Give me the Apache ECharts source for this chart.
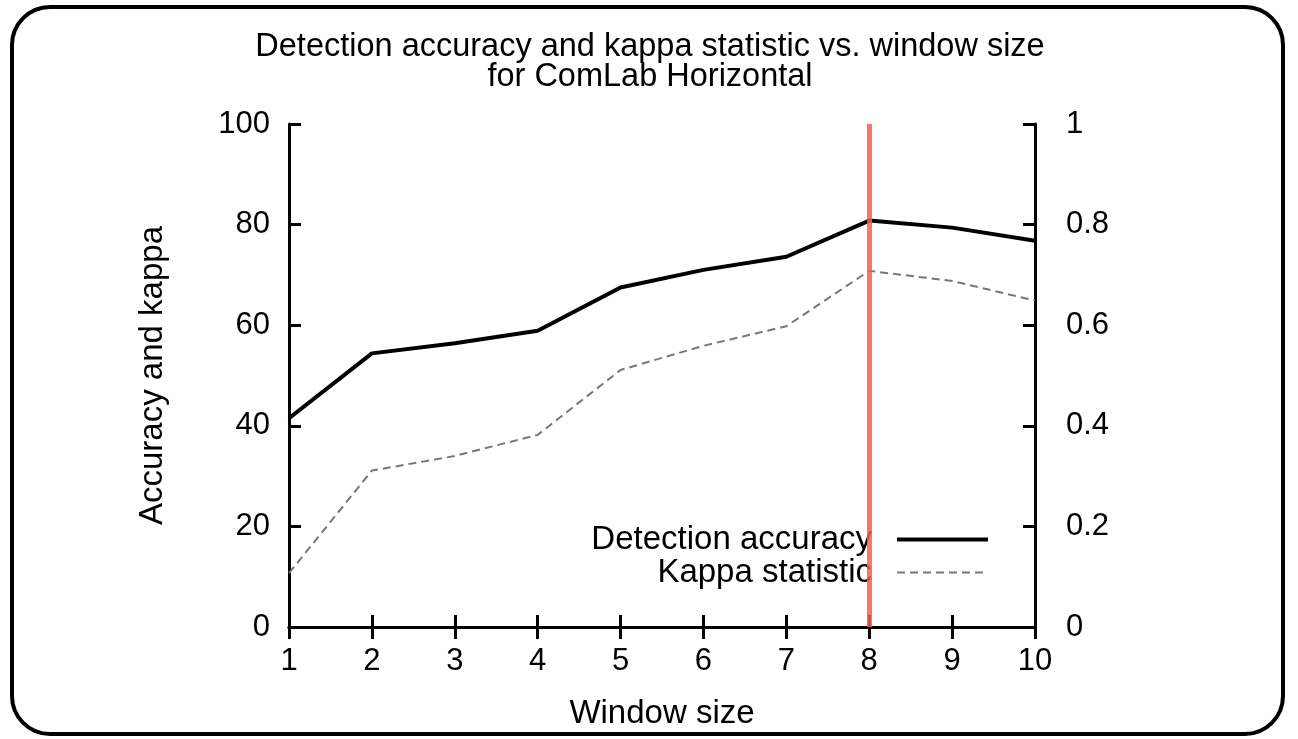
<!DOCTYPE html>
<html>
<head>
<meta charset="utf-8">
<script src="https://cdn.jsdelivr.net/npm/echarts@6/dist/echarts.min.js"></script>
<style>
  html, body { margin: 0; padding: 0; background: #fff; }
  #chart { width: 1298px; height: 739px; }
</style>
</head>
<body>
<div id="chart"></div>
<script>
// window sizes 1..10
const windowSizes = [1, 2, 3, 4, 5, 6, 7, 8, 9, 10];
const accuracy = [41.5, 54.4, 56.4, 58.9, 67.5, 71.0, 73.6, 80.8, 79.4, 76.8];
const kappa = [0.107, 0.311, 0.34, 0.382, 0.511, 0.559, 0.598, 0.708, 0.688, 0.649];
const markerX = 8;

const font = "Liberation Sans, Helvetica, Arial, sans-serif";
let chart = echarts.init(document.getElementById("chart"));

let axisLine = { show: true, lineStyle: { color: "#000", width: 3 } };
let axisTick = { show: true, inside: true, length: 12, lineStyle: { color: "#000", width: 3 } };
let label = { color: "#000", fontSize: 31, fontFamily: font };

let option = {
  animation: false,
  backgroundColor: "#fff",
  title: {
    text: "Detection accuracy and kappa statistic vs. window size\nfor ComLab Horizontal",
    left: 645,
    textAlign: "center",
    top: 27,
    textStyle: { color: "#000", fontSize: 32.5, fontWeight: "normal", fontFamily: font, lineHeight: 30 },
  },
  grid: { left: 289, right: 263, top: 124, bottom: 112 },
  legend: {
    orient: "vertical",
    right: 303,
    top: 518,
    align: "right",
    itemWidth: 91,
    itemHeight: 14,
    itemGap: 0,
    itemStyle: { opacity: 0 },
    lineStyle: { width: "inherit" },
    textStyle: { color: "#000", fontSize: 33, fontFamily: font, lineHeight: 33, padding: [0, 20, 0, 0] },
    data: ["Detection accuracy", "Kappa statistic"],
  },
  xAxis: [
    {
      type: "value",
      min: 1,
      max: 10,
      interval: 1,
      name: "Window size",
      nameLocation: "middle",
      nameGap: 70,
      nameTextStyle: { color: "#000", fontSize: 33, fontFamily: font },
      axisLine: axisLine,
      axisTick: axisTick,
      axisLabel: Object.assign({ margin: 19 }, label),
      splitLine: { show: false },
    },
    {
      type: "value",
      position: "top",
      min: 1,
      max: 10,
      interval: 1,
      axisLine: axisLine,
      axisTick: axisTick,
      axisLabel: { show: false },
      splitLine: { show: false },
    },
  ],
  yAxis: [
    {
      type: "value",
      min: 0,
      max: 100,
      interval: 20,
      name: "Accuracy and kappa",
      nameLocation: "middle",
      nameGap: 120,
      nameTextStyle: { color: "#000", fontSize: 33, fontFamily: font },
      axisLine: axisLine,
      axisTick: axisTick,
      axisLabel: Object.assign({ margin: 19 }, label),
      splitLine: { show: false },
    },
    {
      type: "value",
      min: 0,
      max: 1,
      interval: 0.2,
      axisLine: axisLine,
      axisTick: axisTick,
      axisLabel: Object.assign({ margin: 31, formatter: (v) => (v === 0 || v === 1 ? String(v) : v.toFixed(1)) }, label),
      splitLine: { show: false },
    },
  ],
  series: [
    {
      name: "Detection accuracy",
      type: "line",
      data: windowSizes.map((x, i) => [x, accuracy[i]]),
      symbol: "none",
      lineStyle: { color: "#000", width: 4 },
      itemStyle: { color: "#000" },
      markLine: {
        silent: true,
        symbol: "none",
        label: { show: false },
        lineStyle: { color: "#f4614a", width: 5, type: "solid", opacity: 0.85 },
        data: [{ xAxis: markerX }],
      },
    },
    {
      name: "Kappa statistic",
      type: "line",
      yAxisIndex: 1,
      data: windowSizes.map((x, i) => [x, kappa[i]]),
      symbol: "none",
      lineStyle: { color: "#777", width: 2, type: [8, 5] },
      itemStyle: { color: "#777" },
    },
  ],
  graphic: [
    {
      type: "rect",
      shape: { x: 12, y: 7, width: 1271, height: 727, r: 38 },
      style: { fill: "none", stroke: "#000", lineWidth: 4 },
      silent: true,
    },
  ],
};

chart.setOption(option);
</script>
</body>
</html>
